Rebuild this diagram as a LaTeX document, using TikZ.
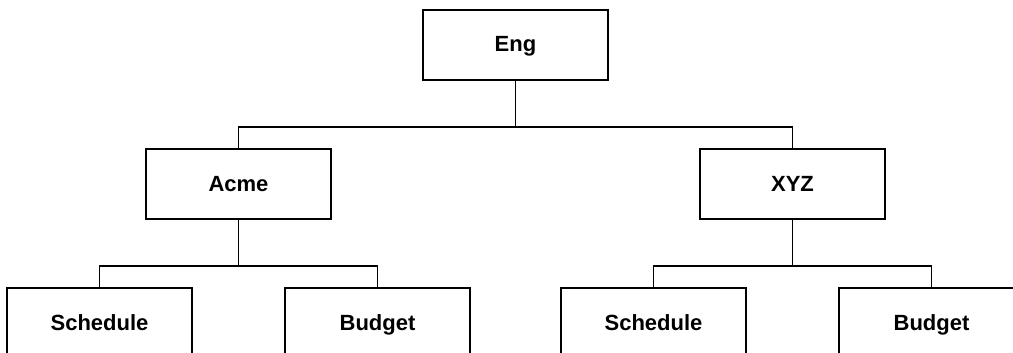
\documentclass[tikz,border=0pt]{standalone}
\usepackage{fontspec}
\setmainfont{Liberation Sans}
\usepackage{tikz}

\begin{document}
\begin{tikzpicture}[line width=1.6pt,node distance=139pt,
  box/.style={draw,rectangle,minimum width=185pt,minimum height=70pt,
    text height=15pt,text depth=1pt,
    font=\fontsize{22}{26}\selectfont\bfseries}]
  \useasboundingbox (0,0) rectangle (1013pt,-353pt);
  \clip (0,0) rectangle (1013pt,-353pt);
  \node(eng) at (515.5pt,-45pt)          [box]{Eng};
  \node[below of=eng,xshift=-277pt](acme) [box]{Acme};
  \node[below of=eng,xshift=277pt](xyz)   [box]{XYZ};
  \node[below of=acme,xshift=-139pt](acmes) [box]{Schedule};
  \node[below of=acme,xshift=139pt](acmeb)  [box]{Budget};
  \node[below of=xyz,xshift=-139pt](xyzs)   [box]{Schedule};
  \node[below of=xyz,xshift=139pt](xyzb)    [box]{Budget};
  \draw (eng.south) -- ++(0,-46pt) -| (acme.north);
  \draw (eng.south) -- ++(0,-46pt) -| (xyz.north);
  \draw (acme.south) -- ++(0,-46pt) -| (acmes.north);
  \draw (acme.south) -- ++(0,-46pt) -| (acmeb.north);
  \draw (xyz.south) -- ++(0,-46pt) -| (xyzs.north);
  \draw (xyz.south) -- ++(0,-46pt) -| (xyzb.north);
\end{tikzpicture}
\end{document}
